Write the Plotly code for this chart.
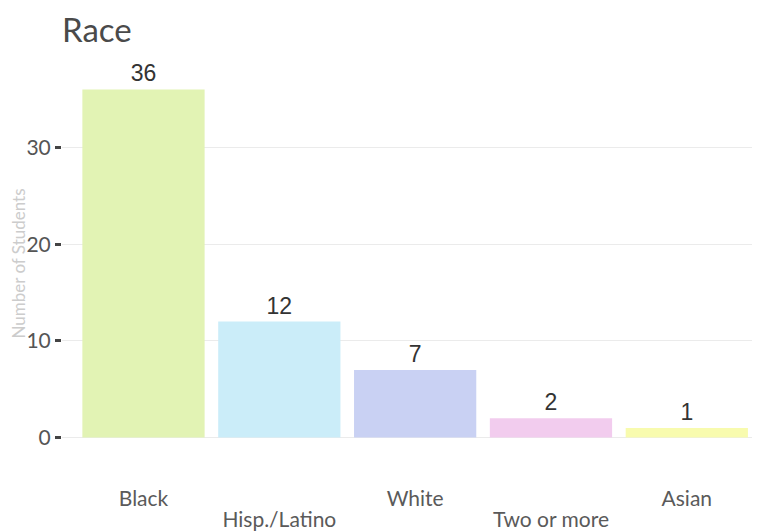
import plotly.graph_objects as go

categories = ["Black", "Hisp./Latino", "White", "Two or more", "Asian"]
students = [36, 12, 7, 2, 1]
bar_colors = ["#e2f3b4", "#cbedf9", "#c9d1f3", "#f2ccee", "#f8fbae"]
upper_idx = [0, 2, 4]   # labels on the first row
lower_idx = [1, 3]      # labels on the staggered second row

x_pos = list(range(len(categories)))

fig = go.Figure()
fig.add_trace(go.Bar(
    x=x_pos,
    y=students,
    width=0.9,
    marker=dict(color=bar_colors, line=dict(width=0)),
    text=[str(v) for v in students],
    textposition="outside",
    textfont=dict(family="Liberation Sans, Arial", size=23, color="#333333"),
    cliponaxis=False,
    hovertext=categories,
))
# invisible helper trace so the second (staggered-label) x axis is drawn
fig.add_trace(go.Scatter(
    x=x_pos, y=students, xaxis="x2", yaxis="y",
    mode="markers", marker=dict(opacity=0), hoverinfo="skip",
))

fig.update_layout(
    width=761, height=531,
    paper_bgcolor="white", plot_bgcolor="white",
    margin=dict(l=54, r=17, t=64, b=84, autoexpand=False),
    title=dict(text="Race", x=54 / 761, xref="container", xanchor="left",
               y=0.957, yref="container", yanchor="middle",
               font=dict(family="Lato", size=33, color="#4a4a4a"),
               automargin=False),
    font=dict(family="Lato", color="#555555"),
    bargap=0.1,
    showlegend=False,
    xaxis=dict(
        range=[-0.6, 4.48],
        tickmode="array", tickvals=upper_idx,
        ticktext=[categories[i] for i in upper_idx],
        tickfont=dict(family="Lato", size=21, color="#5a5a5a"),
        showgrid=False, zeroline=False, showline=False, ticks="",
        ticklabelstandoff=29, automargin=False,
    ),
    xaxis2=dict(
        overlaying="x", side="bottom", anchor="y",
        range=[-0.6, 4.48],
        tickmode="array", tickvals=lower_idx,
        ticktext=[categories[i] for i in lower_idx],
        tickfont=dict(family="Lato", size=21, color="#5a5a5a"),
        showgrid=False, zeroline=False, showline=False, ticks="",
        ticklabelstandoff=50, automargin=False,
    ),
)

fig.update_yaxes(
    range=[-1.8, 37.8],
    tickvals=[0, 10, 20, 30],
    tickfont=dict(family="Lato", size=21, color="#555555"),
    ticks="outside", ticklen=6, tickwidth=2.5, tickcolor="#444444",
    showgrid=True, gridcolor="#ebebeb", gridwidth=1,
    zeroline=False, showline=False, automargin=False,
    title=dict(text="Number of Students", standoff=3,
               font=dict(family="Lato", size=17, color="#cccccc")),
)

fig.write_html("out.html")
